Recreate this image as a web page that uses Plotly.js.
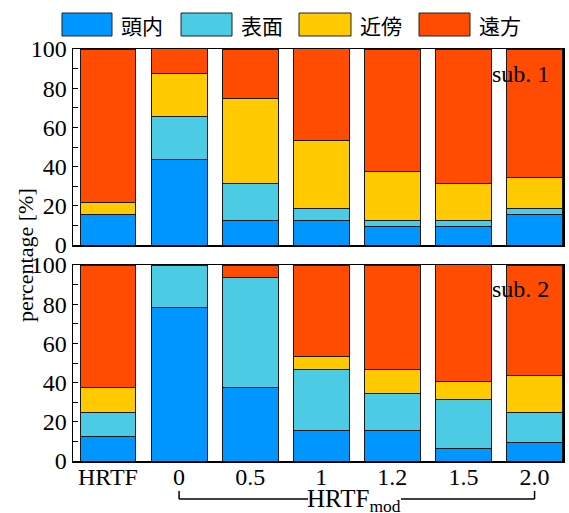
<!DOCTYPE html>
<html>
<head>
<meta charset="utf-8">
<script src="https://cdn.plot.ly/plotly-3.0.1.min.js"></script>
<style>html,body{margin:0;padding:0;background:#fff;}#chart{width:569px;height:513px;}</style>
</head>
<body>
<div id="chart"></div>
<script>
// ---- data ----
const categories = ["HRTF", "0", "0.5", "1", "1.2", "1.5", "2.0"];
const seriesNames = ["頭内", "表面", "近傍", "遠方"];

// sub. 1 (upper panel)
const sub1_head    = [15.6, 43.75, 12.5, 12.5, 9.4, 9.4, 15.6];
const sub1_surface = [0, 21.9, 18.75, 6.25, 3.1, 3.1, 3.1];
const sub1_near    = [6.25, 21.9, 43.75, 34.4, 25, 18.75, 15.6];
const sub1_far     = [78.1, 12.5, 25, 46.9, 62.5, 68.75, 65.6];

// sub. 2 (lower panel)
const sub2_head    = [12.5, 78.1, 37.5, 15.6, 15.6, 6.25, 9.4];
const sub2_surface = [12.5, 21.9, 56.25, 31.25, 18.75, 25, 15.6];
const sub2_near    = [12.5, 0, 0, 6.25, 12.5, 9.4, 18.75];
const sub2_far     = [62.5, 0, 6.25, 46.9, 53.1, 59.4, 56.25];

const yTicks = [0, 20, 40, 60, 80, 100];

// ---- styles ----
const colors = ["#0096ff", "#4ccbe4", "#ffcb00", "#ff4c00"];
const serif = "Liberation Serif";
const cjk = "Noto Sans CJK JP";

const W = 569, H = 513, ML = 73, MR = 6, MT = 49, MB = 52;
const PW = W - ML - MR, PH = H - MT - MB;
const px2x = p => (p - ML) / PW;
const py2y = p => (H - MB - p) / PH;
const xRange = [-0.492, 6.4];
const px2data = p => xRange[0] + (p - ML) / PW * (xRange[1] - xRange[0]);

const panels = [
  {data: [sub1_head, sub1_surface, sub1_near, sub1_far], xa: "x2", ya: "y2"},
  {data: [sub2_head, sub2_surface, sub2_near, sub2_far], xa: "x", ya: "y"}
];

const traces = [];
panels.forEach(p => {
  p.data.forEach((vals, i) => {
    traces.push({
      type: "bar", x: categories, y: vals, name: seriesNames[i],
      xaxis: p.xa, yaxis: p.ya, showlegend: false,
      marker: {color: colors[i], line: {color: "#1a1a1a", width: 1}}
    });
  });
});

const axisLine = {showline: true, mirror: true, linecolor: "#000", linewidth: 1.5, showgrid: false, zeroline: false};

const yAxisBase = Object.assign({}, axisLine, {
  range: [0, 100], tickvals: yTicks, ticktext: yTicks.map(String),
  ticks: "inside", ticklen: 5, tickcolor: "#000",
  minor: {dtick: 10, ticks: "inside", ticklen: 5, tickcolor: "#000"},
  tickfont: {family: serif, size: 24, color: "#000"}, ticklabelstandoff: 0
});

const shapes = [];
const annotations = [];

// custom legend
const legendBoxes = [[62, 112], [181, 232], [299, 351], [419, 470]];
legendBoxes.forEach((b, i) => {
  shapes.push({type: "rect", xref: "paper", yref: "paper",
    x0: px2x(b[0]), x1: px2x(b[1]), y0: py2y(36), y1: py2y(13),
    fillcolor: colors[i], line: {color: "#222", width: 1}});
  annotations.push({xref: "paper", yref: "paper", x: px2x(b[1] + 7), y: py2y(25),
    xanchor: "left", yanchor: "middle", showarrow: false, text: seriesNames[i],
    font: {family: cjk, size: 21, color: "#000"}});
});

// sub labels
annotations.push({xref: "paper", yref: "paper", x: px2x(551), y: py2y(74), xanchor: "right", yanchor: "middle",
  showarrow: false, text: "sub. 1", font: {family: serif, size: 24, color: "#000"}});
annotations.push({xref: "paper", yref: "paper", x: px2x(551), y: py2y(289), xanchor: "right", yanchor: "middle",
  showarrow: false, text: "sub. 2", font: {family: serif, size: 24, color: "#000"}});

// HRTF_mod bracket
const bTop = py2y(491), bBot = py2y(499);
const lw = {color: "#000", width: 1.5};
shapes.push({type: "line", xref: "x", yref: "paper", x0: 1, x1: 1, y0: bTop, y1: bBot, line: lw});
shapes.push({type: "line", xref: "x", yref: "paper", x0: 6, x1: 6, y0: bTop, y1: bBot, line: lw});
shapes.push({type: "line", xref: "x", yref: "paper", x0: 1, x1: px2data(308), y0: bBot, y1: bBot, line: lw});
shapes.push({type: "line", xref: "x", yref: "paper", x0: px2data(401), x1: 6, y0: bBot, y1: bBot, line: lw});
annotations.push({xref: "paper", yref: "paper", x: px2x(354), y: py2y(484), xanchor: "center", yanchor: "top",
  showarrow: false, text: "HRTF<sub>mod</sub>", borderpad: 0,
  font: {family: serif, size: 25, color: "#000"}});

const layout = {
  width: W, height: H,
  margin: {l: ML, r: MR, t: MT, b: MB, pad: 0},
  paper_bgcolor: "#fff", plot_bgcolor: "#fff",
  barmode: "stack", bargap: 0.214,
  showlegend: false,
  xaxis: Object.assign({}, axisLine, {domain: [0, 1], range: xRange, anchor: "y", type: "category",
    ticks: "", ticklabelstandoff: -6, tickfont: {family: serif, size: 24, color: "#000"}}),
  xaxis2: Object.assign({}, axisLine, {domain: [0, 1], range: xRange, anchor: "y2", type: "category",
    matches: "x", ticks: "", showticklabels: false}),
  yaxis: Object.assign({}, yAxisBase, {domain: [0, py2y(265)], anchor: "x"}),
  yaxis2: Object.assign({}, yAxisBase, {domain: [py2y(245), 1], anchor: "x2"}),
  shapes: shapes,
  annotations: annotations.concat([{
    xref: "paper", yref: "paper", x: px2x(25), y: py2y(255), xanchor: "center", yanchor: "middle",
    showarrow: false, textangle: -90, text: "percentage [%]",
    font: {family: serif, size: 22, color: "#000"}
  }])
};

Plotly.newPlot("chart", traces, layout, {displayModeBar: false, staticPlot: true});
</script>
</body>
</html>
